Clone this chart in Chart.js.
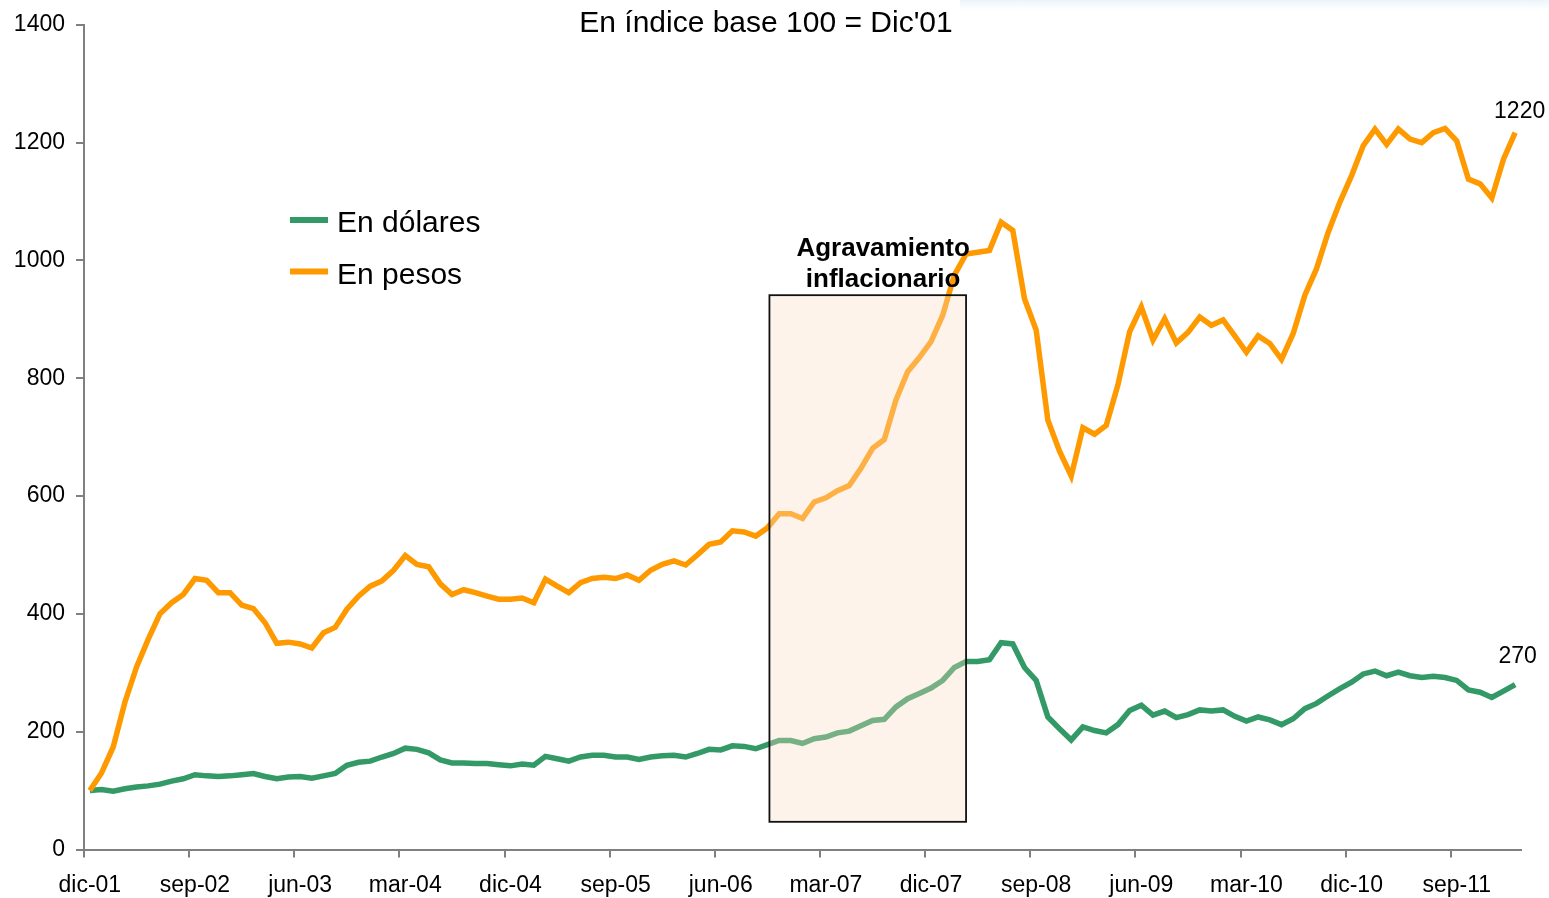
<!DOCTYPE html>
<html lang="es">
<head>
<meta charset="utf-8">
<title>En índice base 100 = Dic'01</title>
<script src="https://cdn.jsdelivr.net/npm/chart.js@4.4.1/dist/chart.umd.min.js"></script>
<style>
  html, body { margin: 0; padding: 0; background: #fff; }
  #wrap { position: relative; width: 1549px; height: 898px; }
  #glow {
    position: absolute; left: 960px; top: 0; width: 589px; height: 10px;
    background: linear-gradient(to bottom, rgba(228,240,250,0.7), rgba(255,255,255,0));
  }
  canvas { position: absolute; left: 0; top: 0; }
</style>
</head>
<body>
<div id="wrap"><div id="glow"></div><canvas id="chart"></canvas></div>
<script>
// --- Data: monthly index, base 100 = dic-01, from dic-01 to feb-12 ---
const MONTHS = ['ene', 'feb', 'mar', 'abr', 'may', 'jun', 'jul', 'ago', 'sep', 'oct', 'nov', 'dic'];

const enDolares = [
  100, 102, 99, 103, 106, 108, 111, 116, 120, 127, 125, 124,
  125, 127, 129, 124, 120, 123, 124, 121, 125, 129, 143, 148,
  150, 157, 163, 172, 170, 164, 152, 147, 147, 146, 146, 144,
  142, 145, 143, 158, 154, 150, 157, 160, 160, 157, 157, 153,
  157, 159, 160, 157, 163, 170, 169, 176, 175, 171, 178, 185,
  185, 180, 188, 191, 198, 201, 210, 219, 221, 242, 256, 265,
  274, 287, 309, 319, 319, 322, 351, 349, 309, 287, 225, 205,
  186, 208, 202, 198, 212, 236, 245, 228, 235, 224, 229, 237,
  235, 237, 226, 218, 225, 220, 212, 222, 239, 248, 261, 273,
  284, 298, 303, 295, 301, 295, 292, 294, 292, 287, 271, 267,
  258, 269, 280
];

const enPesos = [
  100, 130, 174, 250, 310, 357, 400, 419, 433, 460, 457, 436,
  436, 415, 409, 385, 350, 352, 349, 342, 368, 377, 408, 430,
  447, 456, 474, 499, 484, 480, 451, 433, 441, 436, 430, 425,
  425, 427, 419, 459, 447, 436, 453, 460, 462, 460, 466, 457,
  474, 484, 490, 483, 500, 518, 522, 541, 539, 532, 546, 570,
  570, 562, 590, 597, 609, 618, 647, 681, 696, 763, 811, 835,
  862, 907, 975, 1011, 1014, 1017, 1065, 1051, 935, 882, 729, 676,
  634, 716, 705, 720, 789, 879, 921, 865, 901, 860, 878, 904,
  890, 899, 872, 844, 872, 859, 832, 876, 941, 986, 1048, 1099,
  1144, 1195, 1223, 1197, 1223, 1206, 1200, 1217, 1224, 1203, 1138, 1130,
  1106, 1172, 1217
];

// month labels dic-01 ... feb-12
const categories = enPesos.map((_, i) => {
  const m = (11 + i) % 12;
  const yr = 1 + Math.floor((11 + i) / 12);
  return MONTHS[m] + '-' + String(yr).padStart(2, '0');
});
const TICK_EVERY = 9;

const yTicks = [0, 200, 400, 600, 800, 1000, 1200, 1400];
const endLabels = ['270', '1220'];   // dólares, pesos

// annotation (in axis units)
const band = { from: 58.17, to: 75.0, low: 47, high: 941 };
const bandText = ['Agravamiento', 'inflacionario'];

const FONT = 'Arial, "Liberation Sans", sans-serif';
const GREEN = '#339966';
const ORANGE = '#FF9900';
const AXIS = '#808080';

const overlay = {
  id: 'overlay',
  afterDatasetsDraw(chart) {
    const { ctx, scales: { x, y } } = chart;
    const x0 = x.getPixelForValue(band.from), x1 = x.getPixelForValue(band.to);
    const y0 = y.getPixelForValue(band.high), y1 = y.getPixelForValue(band.low);
    ctx.save();
    ctx.fillStyle = 'rgba(249,222,196,0.35)';
    ctx.fillRect(x0, y0, x1 - x0, y1 - y0);
    ctx.strokeStyle = '#111';
    ctx.lineWidth = 1.8;
    ctx.strokeRect(x0, y0, x1 - x0, y1 - y0);

    // band label
    ctx.fillStyle = '#000';
    ctx.font = 'bold 26px ' + FONT;
    ctx.textAlign = 'center';
    ctx.textBaseline = 'alphabetic';
    const tx = x.getPixelForValue(67.9);
    const ty = y.getPixelForValue(1007);
    ctx.fillText(bandText[0], tx, ty);
    ctx.fillText(bandText[1], tx, ty + 31);

    // end value labels
    ctx.font = '23px ' + FONT;
    const offs = [[2.5, -22], [4.5, -15]];
    chart.data.datasets.forEach((ds, i) => {
      const meta = chart.getDatasetMeta(i);
      const pt = meta.data[meta.data.length - 1];
      ctx.fillText(endLabels[i], pt.x + offs[i][0], pt.y + offs[i][1]);
    });
    ctx.restore();
  },
  afterDraw(chart) {
    const { ctx } = chart;
    ctx.save();
    // title
    ctx.fillStyle = '#000';
    ctx.font = '30px ' + FONT;
    ctx.textAlign = 'center';
    ctx.textBaseline = 'alphabetic';
    ctx.fillText("En índice base 100 = Dic'01", 766, 32);

    // legend
    ctx.textAlign = 'left';
    chart.data.datasets.forEach((ds, i) => {
      const ly = 220 + i * 51.5;
      ctx.strokeStyle = ds.borderColor;
      ctx.lineWidth = 6;
      ctx.beginPath();
      ctx.moveTo(290, ly);
      ctx.lineTo(328, ly);
      ctx.stroke();
      ctx.fillText(ds.label, 337, ly + 12);
    });
    ctx.restore();
  }
};

new Chart(document.getElementById('chart'), {
  type: 'line',
  data: {
    labels: categories,
    datasets: [
      { label: 'En dólares', data: enDolares, borderColor: GREEN, backgroundColor: GREEN, borderWidth: 5.5, pointRadius: 0, tension: 0, order: 1 },
      { label: 'En pesos', data: enPesos, borderColor: ORANGE, backgroundColor: ORANGE, borderWidth: 5.5, pointRadius: 0, tension: 0, order: 0 }
    ]
  },
  options: {
    responsive: true,
    maintainAspectRatio: false,
    animation: false,
    layout: { padding: { left: 0, right: 28, top: 22, bottom: 0 } },
    plugins: { legend: { display: false }, tooltip: { enabled: false }, title: { display: false } },
    scales: {
      x: {
        type: 'category',
        offset: true,
        border: { display: true, color: AXIS, width: 2 },
        grid: {
          offset: true,
          drawOnChartArea: false,
          drawTicks: true,
          tickLength: 8,
          lineWidth: 2,
          color: c => (c.index % TICK_EVERY === 0 ? AXIS : 'rgba(0,0,0,0)')
        },
        ticks: {
          autoSkip: false,
          maxRotation: 0,
          minRotation: 0,
          padding: 14,
          color: '#000',
          font: { family: FONT, size: 23 },
          callback: (v, i) => (i % TICK_EVERY === 0 ? categories[i] : '')
        },
        afterFit: s => { s.height = 48.5; }
      },
      y: {
        min: 0,
        max: 1400,
        border: { display: true, color: AXIS, width: 2 },
        grid: { drawOnChartArea: false, drawTicks: true, tickLength: 8, lineWidth: 2, color: AXIS },
        afterBuildTicks: s => { s.ticks = yTicks.map(v => ({ value: v })); },
        ticks: {
          padding: 11,
          color: '#000',
          font: { family: FONT, size: 23 },
          callback: v => String(v)
        },
        afterFit: s => { s.width = 84; }
      }
    }
  },
  plugins: [overlay]
});
</script>
</body>
</html>
